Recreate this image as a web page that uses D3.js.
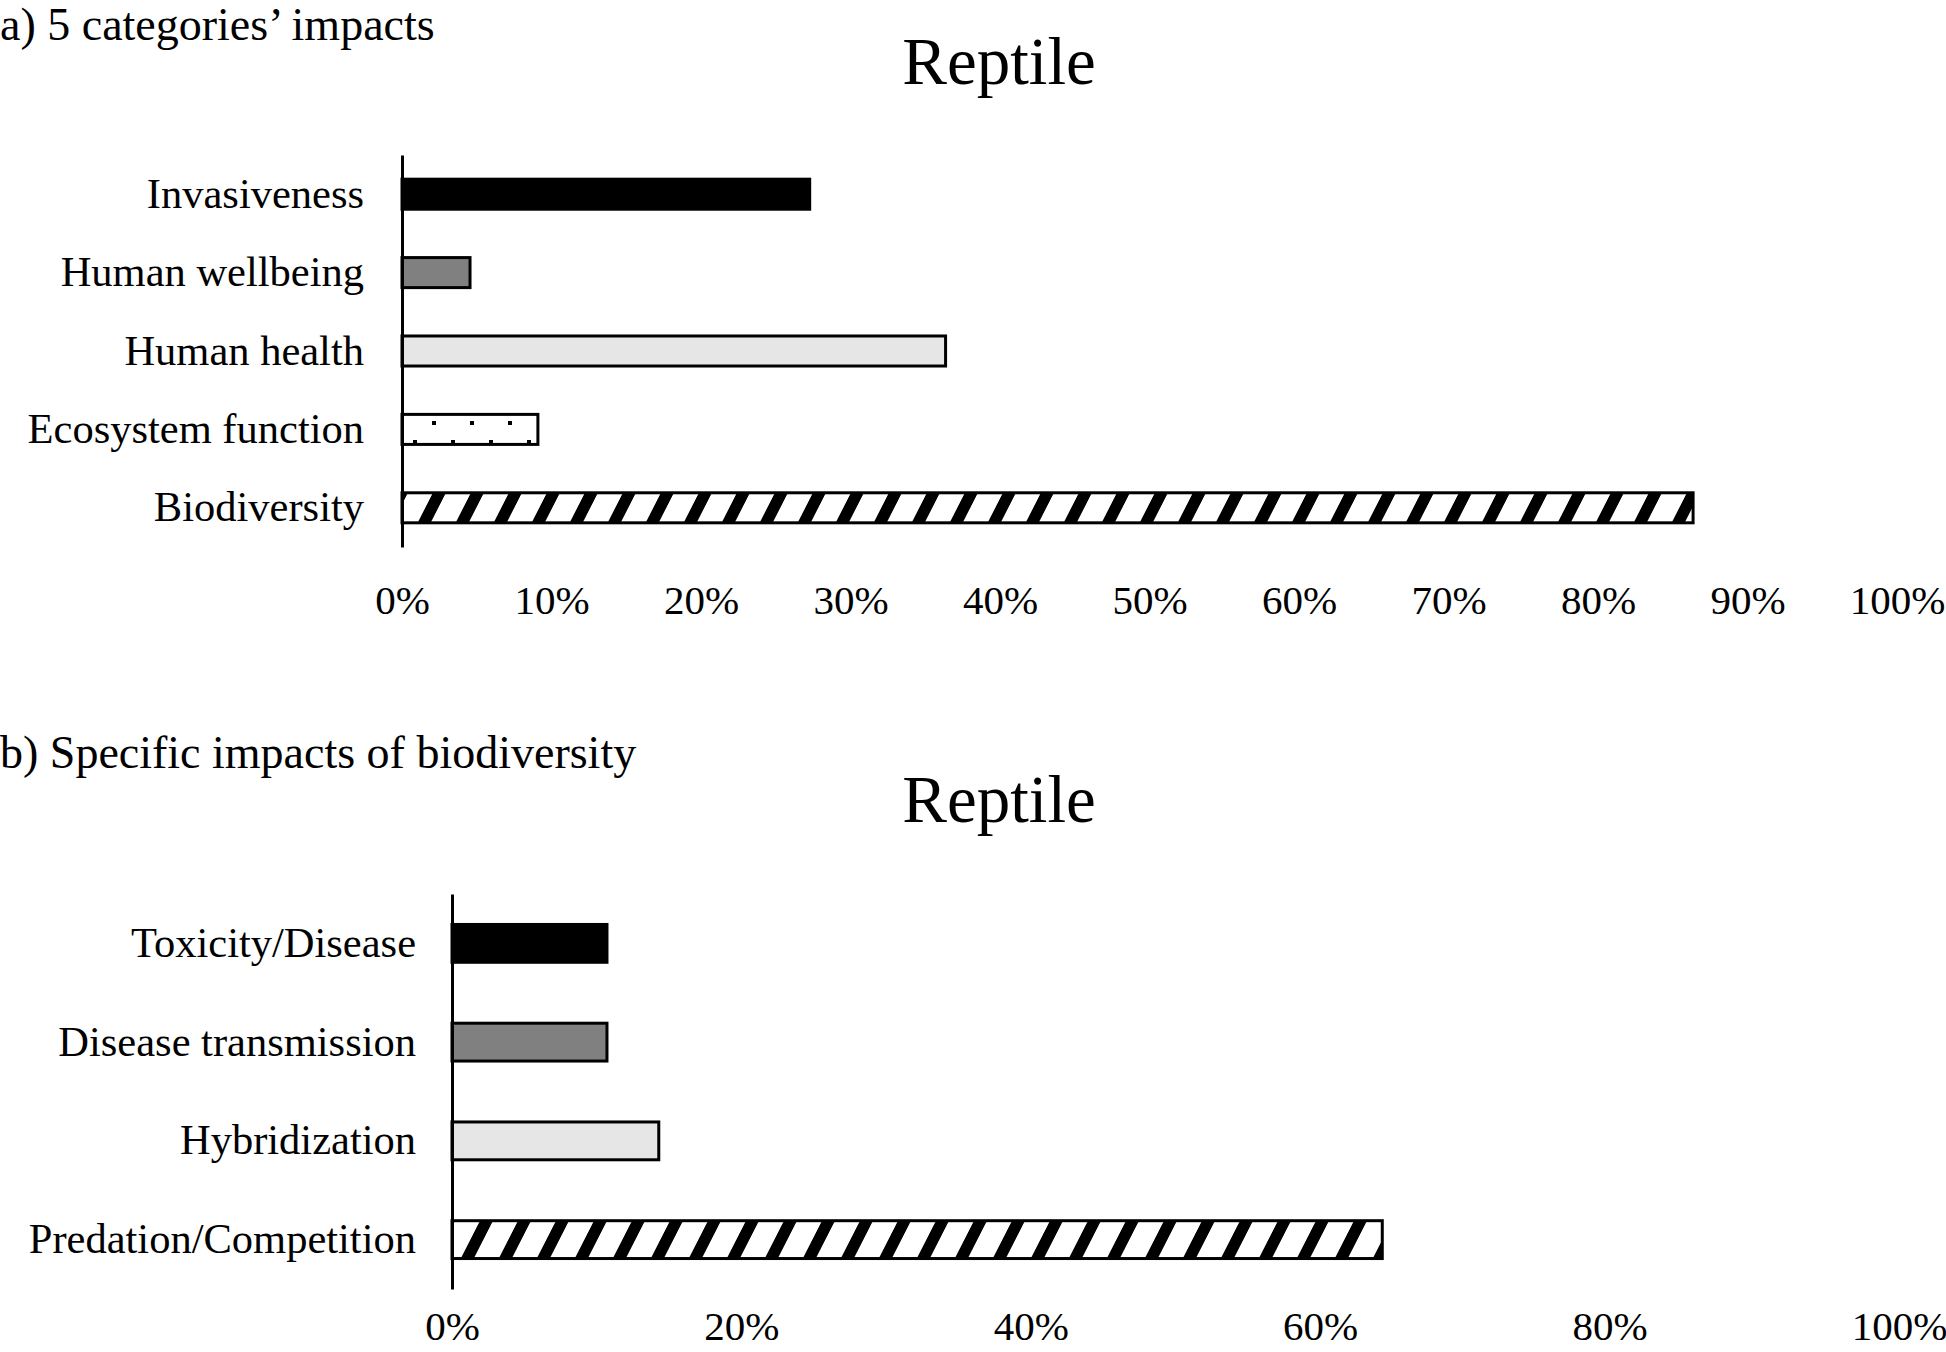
<!DOCTYPE html>
<html>
<head>
<meta charset="utf-8">
<script src="https://cdn.jsdelivr.net/npm/d3@7"></script>
<style>
  html, body { margin: 0; padding: 0; background: #fff; }
  svg { display: block; }
  text { font-family: "Liberation Serif", "Times New Roman", serif; fill: #000; }
</style>
</head>
<body>
<svg id="chart" width="1946" height="1352"></svg>
<script>
// ---- Data (percent) ----
const categoriesA = ["Invasiveness", "Human wellbeing", "Human health", "Ecosystem function", "Biodiversity"];
const valuesA = [27.27, 4.55, 36.36, 9.09, 86.36];
const fillsA = ["black", "gray", "light", "dots", "stripes"];
const ticksA = [0, 10, 20, 30, 40, 50, 60, 70, 80, 90, 100];

const categoriesB = ["Toxicity/Disease", "Disease transmission", "Hybridization", "Predation/Competition"];
const valuesB = [10.71, 10.71, 14.29, 64.29];
const fillsB = ["black", "gray", "light", "stripes"];
const ticksB = [0, 20, 40, 60, 80, 100];

const panelLabelA = "a) 5 categories\u2019 impacts";
const panelLabelB = "b) Specific impacts of biodiversity";
const titleText = "Reptile";

const svg = d3.select("#chart");
const defs = svg.append("defs");

// stripes pattern
const sp = defs.append("pattern").attr("id", "stripes")
  .attr("patternUnits", "userSpaceOnUse").attr("width", 38).attr("height", 38)
  .attr("patternTransform", "skewX(-27)");
sp.append("rect").attr("width", 38).attr("height", 38).attr("fill", "#fff");
sp.append("rect").attr("x", 0).attr("width", 13).attr("height", 38).attr("fill", "#000");

// dots pattern
const dp = defs.append("pattern").attr("id", "dots")
  .attr("patternUnits", "userSpaceOnUse").attr("width", 38).attr("height", 38);
dp.append("rect").attr("width", 38).attr("height", 38).attr("fill", "#fff");
dp.append("rect").attr("x", 14).attr("y", 3).attr("width", 4).attr("height", 4).attr("fill", "#000");
dp.append("rect").attr("x", 33).attr("y", 22).attr("width", 4).attr("height", 4).attr("fill", "#000");

const fillMap = { black: "#000", gray: "#808080", light: "#e6e6e6", dots: "url(#dots)", stripes: "url(#stripes)" };

function panel(cfg) {
  const x = d3.scaleLinear().domain([0, 100]).range([cfg.x0, cfg.x1]);
  const y = d3.scaleBand().domain(cfg.cats).range([cfg.y0, cfg.y1]).padding(0);
  const bh = y.bandwidth() * 0.383;
  const g = svg.append("g");

  // bars
  g.selectAll("rect.bar").data(cfg.vals).join("rect")
    .attr("class", "bar")
    .attr("x", x(0))
    .attr("y", (d, i) => y(cfg.cats[i]) + y.bandwidth() / 2 - bh / 2)
    .attr("width", d => x(d) - x(0))
    .attr("height", bh)
    .attr("fill", (d, i) => fillMap[cfg.fills[i]])
    .attr("stroke", "#000")
    .attr("stroke-width", 3);

  // y axis
  const ya = g.append("g").attr("transform", `translate(${x(0)},0)`)
    .call(d3.axisLeft(y).tickSize(0).tickSizeOuter(0).tickPadding(cfg.yPad));
  ya.select(".domain").attr("stroke", "#000").attr("stroke-width", 3);
  ya.selectAll("text").style("font-size", "42.5px").style("font-family", "Liberation Serif, Times New Roman, serif");

  // x axis (labels only)
  const xa = g.append("g").attr("transform", `translate(0,${cfg.y1})`)
    .call(d3.axisBottom(x).tickValues(cfg.ticks).tickFormat(d => d + "%").tickSize(0).tickPadding(cfg.xPad));
  xa.select(".domain").remove();
  xa.selectAll("text").style("font-size", "41px").style("font-family", "Liberation Serif, Times New Roman, serif");

  // title
  svg.append("text").attr("x", 999).attr("y", cfg.titleY).attr("text-anchor", "middle")
    .style("font-size", "67px").text(titleText);
  // panel label
  svg.append("text").attr("x", 0).attr("y", cfg.labelY)
    .style("font-size", "46px").text(cfg.label);
}

panel({ cats: categoriesA, vals: valuesA, fills: fillsA, ticks: ticksA,
  x0: 402, x1: 1897, y0: 155, y1: 547, yPad: 38, xPad: 38,
  titleY: 84, labelY: 40, label: panelLabelA });

panel({ cats: categoriesB, vals: valuesB, fills: fillsB, ticks: ticksB,
  x0: 452, x1: 1899, y0: 894, y1: 1289, yPad: 36, xPad: 22,
  titleY: 822, labelY: 768, label: panelLabelB });
</script>
</body>
</html>
